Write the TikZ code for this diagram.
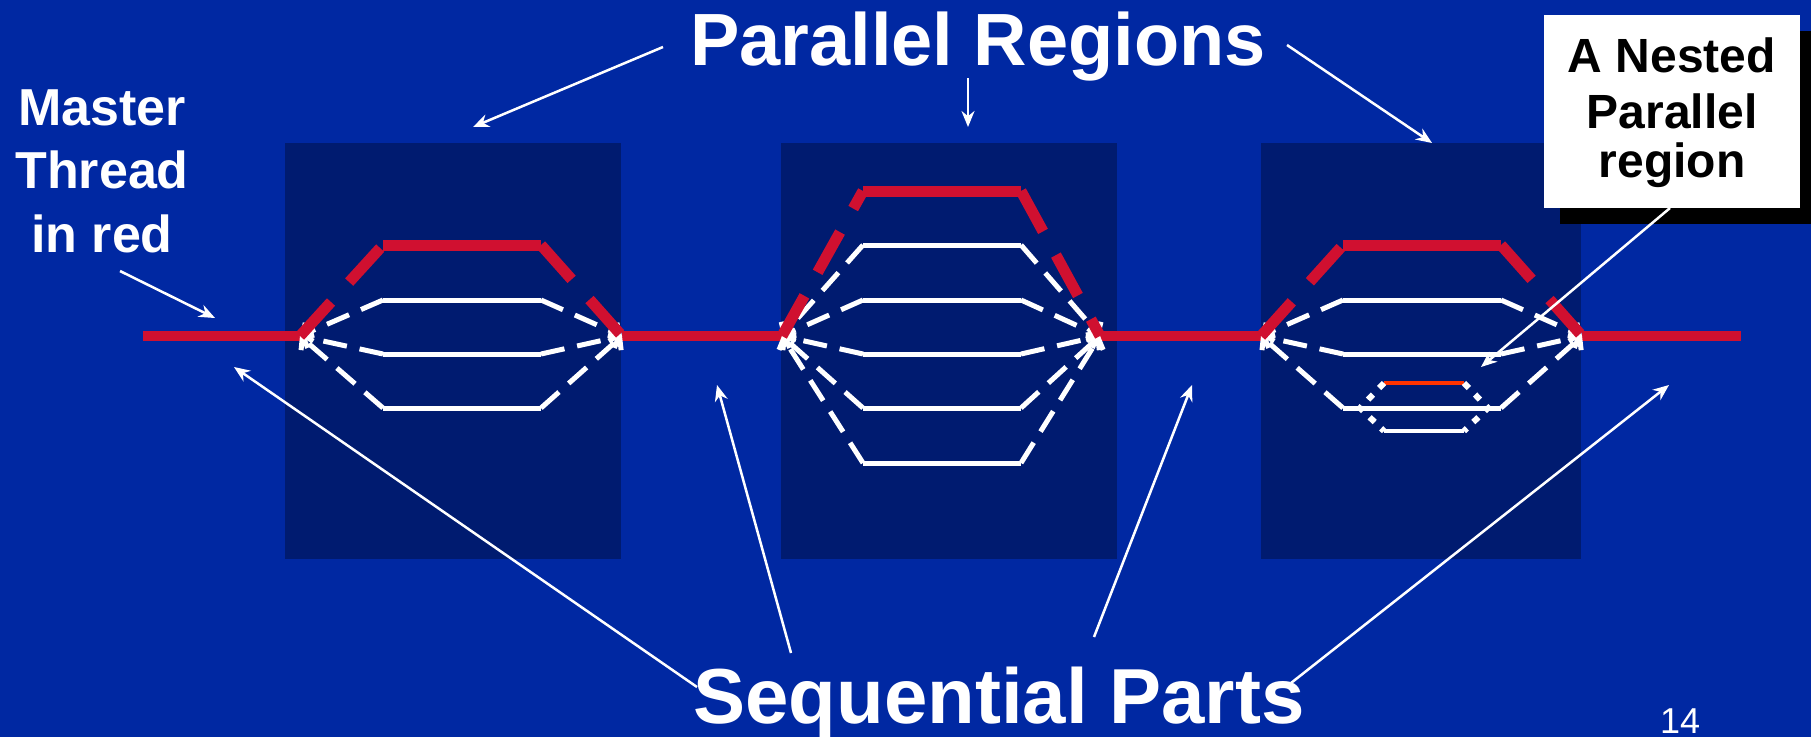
\documentclass[tikz,border=0pt]{standalone}
\usepackage{fontspec}
\setmainfont{Liberation Sans}
\usetikzlibrary{arrows.meta}
\definecolor{bgblue}{RGB}{0,40,162}
\definecolor{boxblue}{RGB}{0,27,112}
\definecolor{mred}{RGB}{208,16,48}
\definecolor{norange}{RGB}{255,51,0}
\begin{document}
\begin{tikzpicture}[x=1pt,y=-1pt,
  regionbox/.style={fill=boxblue,draw=none},
  mainline/.style={draw=mred,line width=10pt},
  mastertop/.style={draw=mred,line width=11pt},
  masterdash/.style={draw=mred,line width=11pt,dash pattern=on 46pt off 27pt},
  wline/.style={draw=white,line width=5pt},
  wdash/.style={draw=white,line width=5pt,dash pattern=on 24pt off 13pt,
     -{Straight Barb[length=7pt,width=20pt]}},
  nestdot/.style={draw=white,line width=6pt,dash pattern=on 7pt off 9pt},
  callout/.style={draw=white,line width=2.5pt,-{Stealth[length=16pt,width=13pt]}},
  bigtext/.style={text=white,font=\bfseries\fontsize{74}{80}\selectfont,anchor=base,inner sep=0pt},
  seqtext/.style={text=white,font=\bfseries\fontsize{78}{84}\selectfont,anchor=base,inner sep=0pt},
  mtext/.style={text=white,font=\bfseries\fontsize{52}{60}\selectfont,anchor=base,inner sep=0pt},
  ntext/.style={text=black,font=\bfseries\fontsize{48}{56}\selectfont,anchor=base,inner sep=0pt},
  pagenum/.style={text=white,font=\fontsize{36}{40}\selectfont,anchor=base,inner sep=0pt}
]
\fill[bgblue] (0,0) rectangle (1811,737);
\useasboundingbox (0,0) rectangle (1811,737);

% region boxes
\fill[regionbox] (285,143) rectangle (621,559);
\fill[regionbox] (781,143) rectangle (1117,559);
\fill[regionbox] (1261,143) rectangle (1581,559);

% fork / join points
\coordinate (s0) at (143,336);
\coordinate (f1) at (300,336); \coordinate (j1) at (622,336);
\coordinate (f2) at (782,336); \coordinate (j2) at (1100,336);
\coordinate (f3) at (1261,336); \coordinate (j3) at (1582,336);
\coordinate (s4) at (1741,336);

% sequential master thread
\draw[mainline] (s0) -- (f1);
\draw[mainline] (j1) -- (f2);
\draw[mainline] (j2) -- (f3);
\draw[mainline] (j3) -- (s4);

% region 1
\foreach \y [count=\i] in {300,354,408} {
  \coordinate (a\i l) at (383,\y); \coordinate (a\i r) at (541,\y);
  \draw[wline] (a\i l) -- (a\i r);
  \draw[wdash] (a\i l) -- (f1);
  \draw[wdash] (a\i r) -- (j1);
}
\coordinate (atl) at (383,245); \coordinate (atr) at (541,245);
\draw[masterdash] (f1) -- (atl);
\draw[mastertop] (atl) -- (atr);
\draw[masterdash] (atr) -- (j1);

% region 2
\foreach \y [count=\i] in {245,300,354,408,463} {
  \coordinate (b\i l) at (863,\y); \coordinate (b\i r) at (1021,\y);
  \draw[wline] (b\i l) -- (b\i r);
  \draw[wdash] (b\i l) -- (f2);
  \draw[wdash] (b\i r) -- (j2);
}
\coordinate (btl) at (863,191); \coordinate (btr) at (1021,191);
\draw[masterdash] (f2) -- (btl);
\draw[mastertop] (btl) -- (btr);
\draw[masterdash] (btr) -- (j2);

% region 3
\foreach \y [count=\i] in {300,354,408} {
  \coordinate (c\i l) at (1343,\y); \coordinate (c\i r) at (1501,\y);
  \draw[wline] (c\i l) -- (c\i r);
  \draw[wdash] (c\i l) -- (f3);
  \draw[wdash] (c\i r) -- (j3);
}
\coordinate (ctl) at (1343,245); \coordinate (ctr) at (1501,245);
\draw[masterdash] (f3) -- (ctl);
\draw[mastertop] (ctl) -- (ctr);
\draw[masterdash] (ctr) -- (j3);

% nested region
\coordinate (nf) at (1360,408); \coordinate (nj) at (1488,408);
\coordinate (n1l) at (1384,383); \coordinate (n1r) at (1464,383);
\coordinate (n2l) at (1384,431); \coordinate (n2r) at (1464,431);
\draw[draw=norange,line width=4.5pt] (n1l) -- (n1r);
\draw[draw=white,line width=4.5pt] (n2l) -- (n2r);
\draw[nestdot] (n1l) -- (nf) -- (n2l);
\draw[nestdot] (n1r) -- (nj) -- (n2r);

% texts
\node[bigtext] (pr) at (978,65) {Parallel Regions};
\node[seqtext] (sp) at (999,723) {Sequential Parts};
\node[pagenum] (pg) at (1680,733) {14};
\node[mtext] (m1) at (102,125) {Master};
\node[mtext] (m2) at (102,188) {Thread};
\node[mtext] (m3) at (102,252) {in red};

% nested label box
\node[fill=black,minimum width=256pt,minimum height=193pt,inner sep=0pt] (nshadow) at (1688,127) {};
\node[fill=white,minimum width=256pt,minimum height=193pt,inner sep=0pt] (nbox) at (1672,111) {};
\node[ntext] (n1) at (1672,72) {A Nested};
\node[ntext] (n2) at (1672,128) {Parallel};
\node[ntext] (n3) at (1672,177) {region};

% callout arrows
\coordinate (prl) at (663,47); \coordinate (prlt) at (473,127);
\coordinate (prm) at (968,78); \coordinate (prmt) at (968,127);
\coordinate (prr) at (1287,45); \coordinate (prrt) at (1432,143);
\draw[callout] (prl) -- (prlt);
\draw[callout] (prm) -- (prmt);
\draw[callout] (prr) -- (prrt);

\coordinate (mst) at (120,271); \coordinate (mstt) at (215,318);
\draw[callout] (mst) -- (mstt);

\coordinate (nst) at (1670,208); \coordinate (nstt) at (1481,367);
\draw[callout] (nst) -- (nstt);

\coordinate (q1) at (697,687); \coordinate (q1t) at (234,367);
\coordinate (q2) at (791,653); \coordinate (q2t) at (717,385);
\coordinate (q3) at (1094,637); \coordinate (q3t) at (1192,385);
\coordinate (q4) at (1291,683); \coordinate (q4t) at (1669,385);
\draw[callout] (q1) -- (q1t);
\draw[callout] (q2) -- (q2t);
\draw[callout] (q3) -- (q3t);
\draw[callout] (q4) -- (q4t);
\end{tikzpicture}
\end{document}
